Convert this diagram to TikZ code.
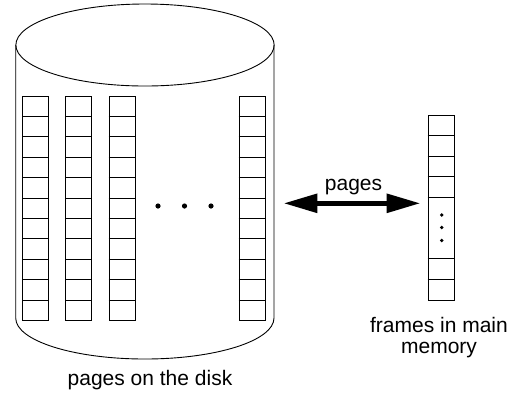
\documentclass[tikz,border=0pt]{standalone}
\usepackage{fontspec}
\setmainfont{Liberation Sans}
\usetikzlibrary{arrows.meta}
\tikzset{
  lbl/.style={font=\fontsize{21bp}{25bp}\selectfont, inner sep=0, anchor=base},
  cell/.style={draw, line width=0.9bp, inner sep=0, minimum width=26bp, anchor=north west},
  bigdot/.style={fill=black},
  bigarrow/.style={line width=5.5bp, {Triangle[length=34bp,width=18bp]}-{Triangle[length=34bp,width=18bp]}}
}
\begin{document}
\begin{tikzpicture}[x=1bp,y=-1bp,line width=0.9bp]
\useasboundingbox (0,0) rectangle (518,394);
% cylinder
\draw (145,45) ellipse[x radius=129.15, y radius=41];
\draw (15.7,45) -- (15.7,318) arc[start angle=180, end angle=0, x radius=129.15, y radius=41] -- (274,45);
% disk page columns
\foreach \cx [count=\i] in {22,65,108.7,238.7} {
  \node[cell, minimum height=224.4bp] (col\i) at (\cx,96) {};
  \foreach \r in {1,...,10}
    \draw (\cx,96+\r*20.4) -- ++(26,0);
}
% dots
\fill[bigdot] (158,206) circle[radius=2.6];
\fill[bigdot] (184.5,206) circle[radius=2.6];
\fill[bigdot] (211,206) circle[radius=2.6];
% frames column
\node[cell, minimum height=184.5bp] (frames) at (427.7,115) {};
\foreach \k in {1,2,3,4,7,8}
  \draw (427.7,115+\k*20.5) -- ++(26,0);
\fill[bigdot] (441.7,215) circle[radius=1.9];
\fill[bigdot] (441.7,227.5) circle[radius=1.9];
\fill[bigdot] (441.7,240.5) circle[radius=1.9];
% arrow
\coordinate (aleft) at (283.3,203.3);
\coordinate (aright) at (420.7,203.3);
\draw[bigarrow] (aleft) -- (aright);
% labels
\node[lbl] (plabel) at (353.5,190.7) {pages};
\node[lbl] (disklabel) at (150,385) {pages on the disk};
\node[lbl] (frlabela) at (439,332.7) {frames in main};
\node[lbl] (frlabelb) at (439,353) {memory};
\end{tikzpicture}
\end{document}
